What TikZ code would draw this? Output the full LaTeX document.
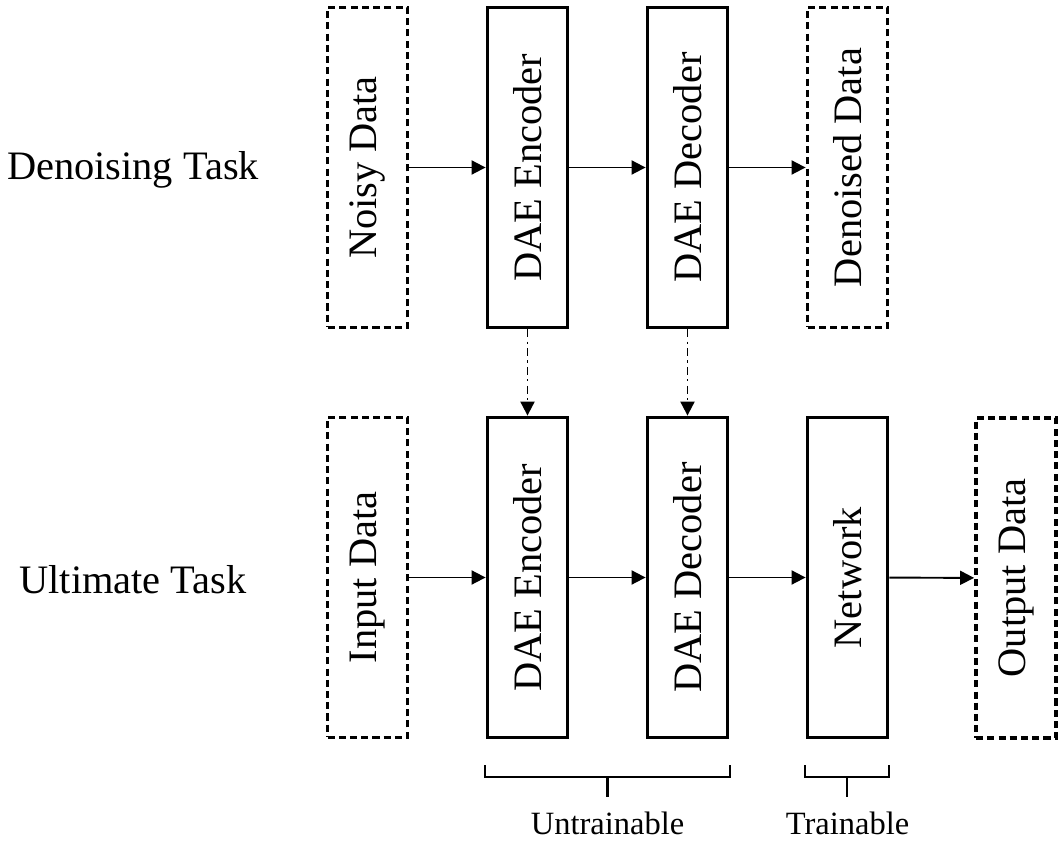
\documentclass[tikz,border=0pt]{standalone}
\usepackage{fontspec}
\setmainfont{Liberation Serif}
\usepackage{graphicx}
\usetikzlibrary{arrows.meta}

\begin{document}
\begin{tikzpicture}[x=0.02cm,y=-0.02cm,
	blk/.style={draw, line width=2.2pt, minimum width=1.6cm, minimum height=6.4cm, inner sep=0pt, font=\fontsize{23}{26}\selectfont},
	dat/.style={blk, dash pattern=on 4pt off 2.4pt},
	flow/.style={-{Triangle[length=8pt,width=8pt]}, line width=1.1pt},
	share/.style={flow, dash pattern=on 4.5pt off 2.5pt on 1.2pt off 2.5pt},
	brk/.style={line width=1.3pt},
	tsk/.style={font=\fontsize{23}{26}\selectfont},
	note/.style={font=\fontsize{18.5}{22}\selectfont}]
	\useasboundingbox (0,0) rectangle (1063,841);
	% denoising task
	\node[tsk] (dtask) at (133,170) {Denoising Task};
	\node[dat] (noisy) at (367.5,167.5) {\rotatebox{90}{Noisy Data}};
	\node[blk] (enc1) at (527.5,167.5) {\rotatebox{90}{DAE Encoder}};
	\node[blk] (dec1) at (687.5,167.5) {\rotatebox{90}{DAE Decoder}};
	\node[dat] (clean) at (847.5,167.5) {\rotatebox{90}{Denoised Data}};
	% ultimate task
	\node[tsk] (utask) at (133,580) {Ultimate Task};
	\node[dat] (input) at (367.5,577.5) {\rotatebox{90}{Input Data}};
	\node[blk] (enc2) at (527.5,577.5) {\rotatebox{90}{DAE Encoder}};
	\node[blk] (dec2) at (687.5,577.5) {\rotatebox{90}{DAE Decoder}};
	\node[blk] (net) at (847.5,577.5) {\rotatebox{90}{Network}};
	\node[dat] (output) at (1016,578) {\rotatebox{90}{Output Data}};
	% arrows
	\draw[flow] (noisy) -- (enc1);
	\draw[flow] (enc1) -- (dec1);
	\draw[flow] (dec1) -- (clean);
	\draw[flow] (input) -- (enc2);
	\draw[flow] (enc2) -- (dec2);
	\draw[flow] (dec2) -- (net);
	\draw[flow] (net) -- (output);
	\draw[share] (enc1) -- (enc2);
	\draw[share] (dec1) -- (dec2);
	% brackets
	\draw[brk] (485,765) |- (730,777) -- (730,765);
	\draw[brk] (607.5,777) -- (607.5,797);
	\draw[brk] (805,765) |- (889,777) -- (889,765);
	\draw[brk] (847,777) -- (847,797);
	\node[note] (untr) at (607.5,823) {Untrainable};
	\node[note] (tr) at (847.5,823) {Trainable};
\end{tikzpicture}
\end{document}
